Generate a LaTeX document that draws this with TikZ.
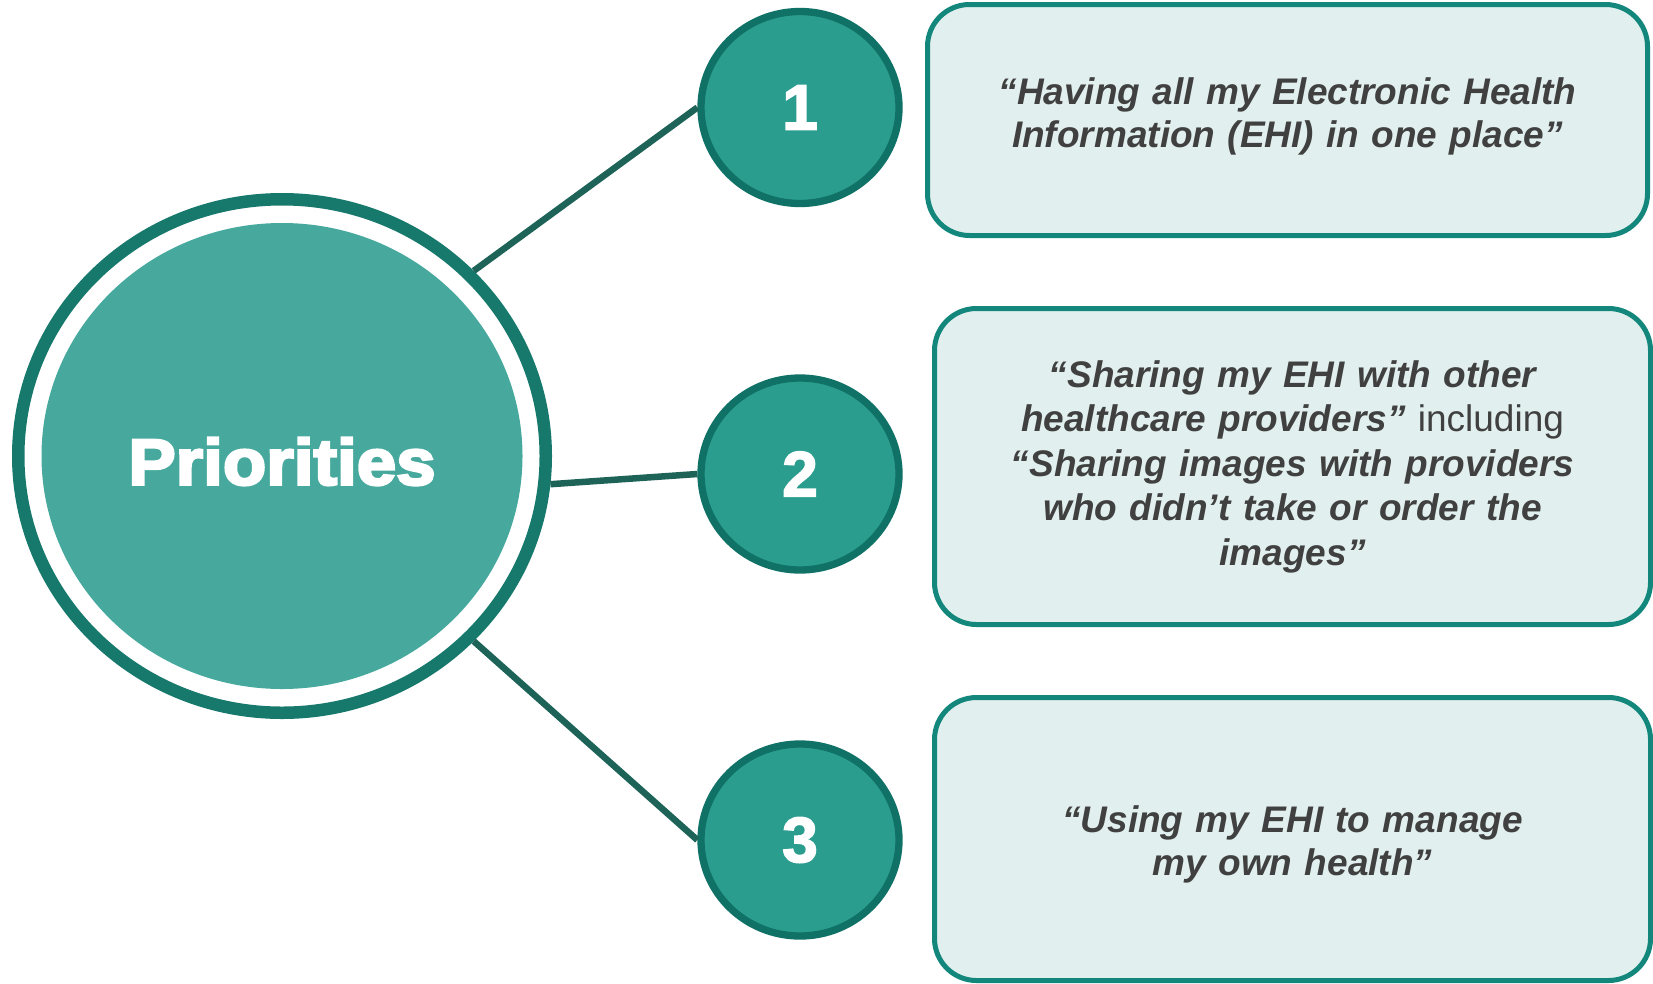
\documentclass[tikz,border=0pt]{standalone}
\usepackage{fontspec}
\setmainfont{Liberation Sans}
\usepackage{tikz}
\usetikzlibrary{shapes.geometric,positioning}
\definecolor{prioFill}{RGB}{71,169,157}
\definecolor{ringCol}{RGB}{23,120,108}
\definecolor{numFill}{RGB}{42,157,143}
\definecolor{numLine}{RGB}{16,114,103}
\definecolor{linkCol}{RGB}{30,99,88}
\definecolor{boxLine}{RGB}{19,135,124}
\definecolor{boxFill}{RGB}{225,240,238}
\definecolor{quoteCol}{RGB}{64,64,64}
\tikzstyle{link} = [linkCol, line width=6.5pt]
\tikzstyle{num} = [ellipse, draw=numLine, fill=numFill, line width=7.3pt, minimum width=198pt, minimum height=192pt, inner sep=0pt, text=white, font=\fontsize{64}{70}\selectfont\bfseries\addfontfeatures{FakeBold=2.5}]
\tikzstyle{quote} = [rectangle, rounded corners=42pt, draw=boxLine, fill=boxFill, line width=5pt, text width=640pt, align=center, text=quoteCol, font=\fontsize{37}{43}\selectfont\bfseries\itshape]

\begin{document}
\begin{tikzpicture}[x=1pt, y=-1pt]
		\useasboundingbox (0,0) rectangle (1653,983);
		\coordinate (prio) at (282,456);
		\coordinate (n1) at (800,107.5);
		\coordinate (n2) at (800,474);
		\coordinate (n3) at (800,840);
		\coordinate (box1) at (1287.5,120);
		\coordinate (box2) at (1292.5,466.5);
		\coordinate (box3) at (1292.5,839);
		% Centre circle with its outer ring
		\node[name=ring, ellipse, draw=ringCol, line width=12.5pt, minimum width=527.5pt, minimum height=513.5pt, inner sep=0pt] at (prio) {};
		\node[name=prio, ellipse, fill=prioFill, minimum width=481pt, minimum height=466pt, inner sep=0pt, text=white] at (prio)
			{\fontsize{65}{70}\selectfont\bfseries\addfontfeatures{FakeBold=4,FakeStretch=1.09}\rule{0pt}{58pt}Priorities};
		% Numbered circles
		\node[num, name=n1] at (n1) {1};
		\node[num, name=n2] at (n2) {2};
		\node[num, name=n3] at (n3) {3};
		% Quote boxes (struts nudge the text up or down)
		\node[quote, name=box1, minimum width=720pt, minimum height=231pt] at (box1)
			{“Having all my Electronic Health\\Information (EHI) in one place”\rule[-14pt]{0pt}{0pt}};
		\node[quote, name=box2, minimum width=716pt, minimum height=316pt, font=\fontsize{37}{44.5}\selectfont\bfseries\itshape] at (box2)
			{“Sharing my EHI with other\\healthcare providers” {\normalfont including}\\“Sharing images with providers\\who didn’t take or order the\\images”};
		\node[quote, name=box3, minimum width=716pt, minimum height=283pt] at (box3)
			{\rule{0pt}{37pt}“Using my EHI to manage\\my own health”};
		% Spokes
		\draw [link] (ring.44) -- (n1.west);
		\draw [link] (ring.-6) -- (n2.west);
		\draw [link] (ring.-44) -- (n3.west);
\end{tikzpicture}
\end{document}
